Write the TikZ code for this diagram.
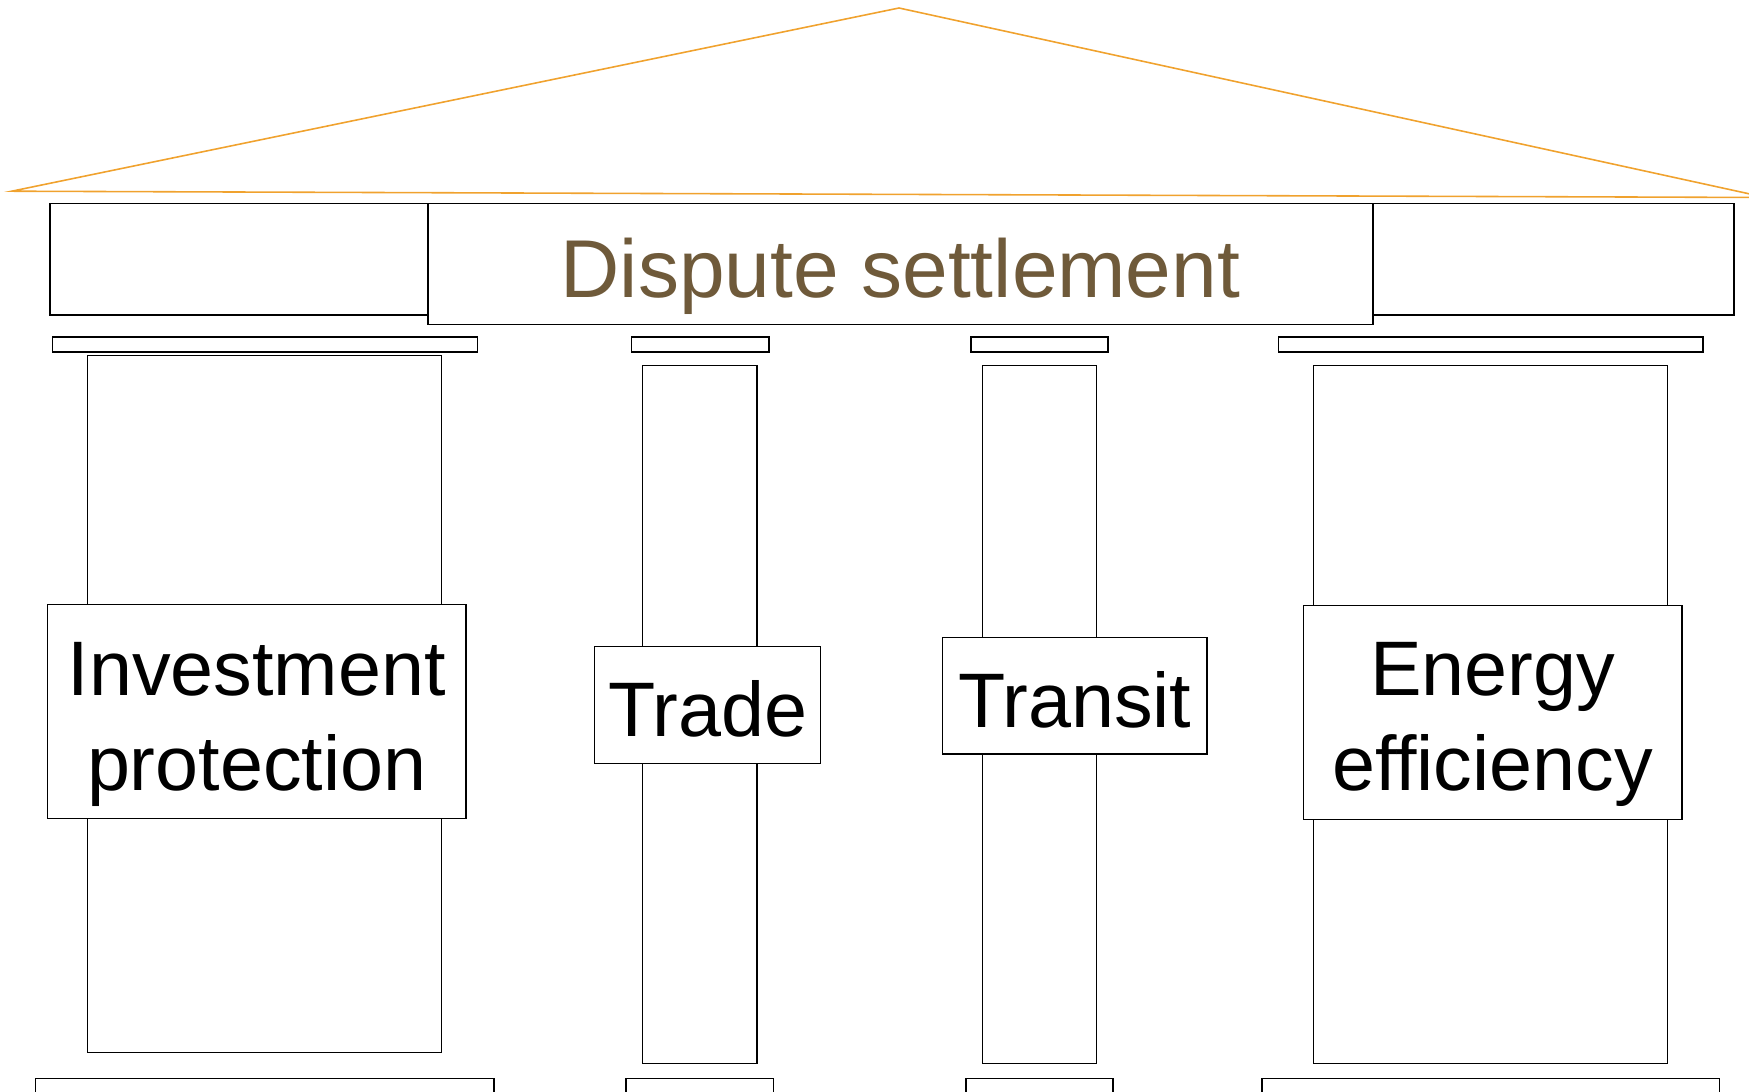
\documentclass[tikz,border=0pt]{standalone}
\usepackage{fontspec}
\setmainfont{Liberation Sans}
\usepackage{tikz}
\definecolor{roofline}{RGB}{240,162,46}
\definecolor{titlebrown}{RGB}{111,90,58}

\begin{document}
\begin{tikzpicture}[x=0.02cm, y=-0.02cm,
  part/.style={draw=black, fill=white, line width=0.9pt},
  lbl/.style={font=\fontsize{44}{54}\selectfont, align=center, inner sep=0pt, anchor=base}]
\useasboundingbox (0,0) rectangle (1749,1092);
\clip (0,0) rectangle (1749,1092);
% roof
\draw[roofline, line width=0.9pt] (11.7,191.2) -- (899,8) -- (1766,197.5) -- cycle;
% beam
\draw[part] (50,203.3) rectangle (1734,315);
\draw[part] (428,203.3) rectangle (1372.7,324.7);
\node[lbl, font=\fontsize{46.7}{56}\selectfont, text=titlebrown] (dispute) at (900.4,297.7) {Dispute settlement};
% columns: capital, shaft, foot
\foreach \ca/\cb/\sa/\sb/\st/\se/\ba/\bb in {52.3/477.3/87.3/441.7/355.7/1052.7/35.3/494,
    631.7/769/642.7/757/365.7/1063.3/626/773.7,
    971/1108/982.7/1096.5/365.7/1063.3/966/1113,
    1278.3/1702.7/1313.3/1667.3/365.7/1063.3/1261.7/1719.3} {
  \draw[part] (\ca,337) rectangle (\cb,352);
  \draw[part] (\sa,\st) rectangle (\sb,\se);
  \draw[part] (\ba,1078.3) rectangle (\bb,1110);
}
% label plates
\foreach \xa/\ya/\xb/\yb in {47.5/604.3/466/818.7, 594.7/646.7/820.7/763.3,
    942.5/637.7/1207/754, 1303.6/605.3/1681.7/819.3}
  \draw[part] (\xa,\ya) rectangle (\xb,\yb);
\node[lbl] (invest) at (256.75,790) {Investment\\protection};
\node[lbl] (trade) at (707.7,736) {Trade};
\node[lbl] (transit) at (1074.75,727.3) {Transit};
\node[lbl] (energy) at (1492.6,790) {Energy\\efficiency};
\end{tikzpicture}
\end{document}
